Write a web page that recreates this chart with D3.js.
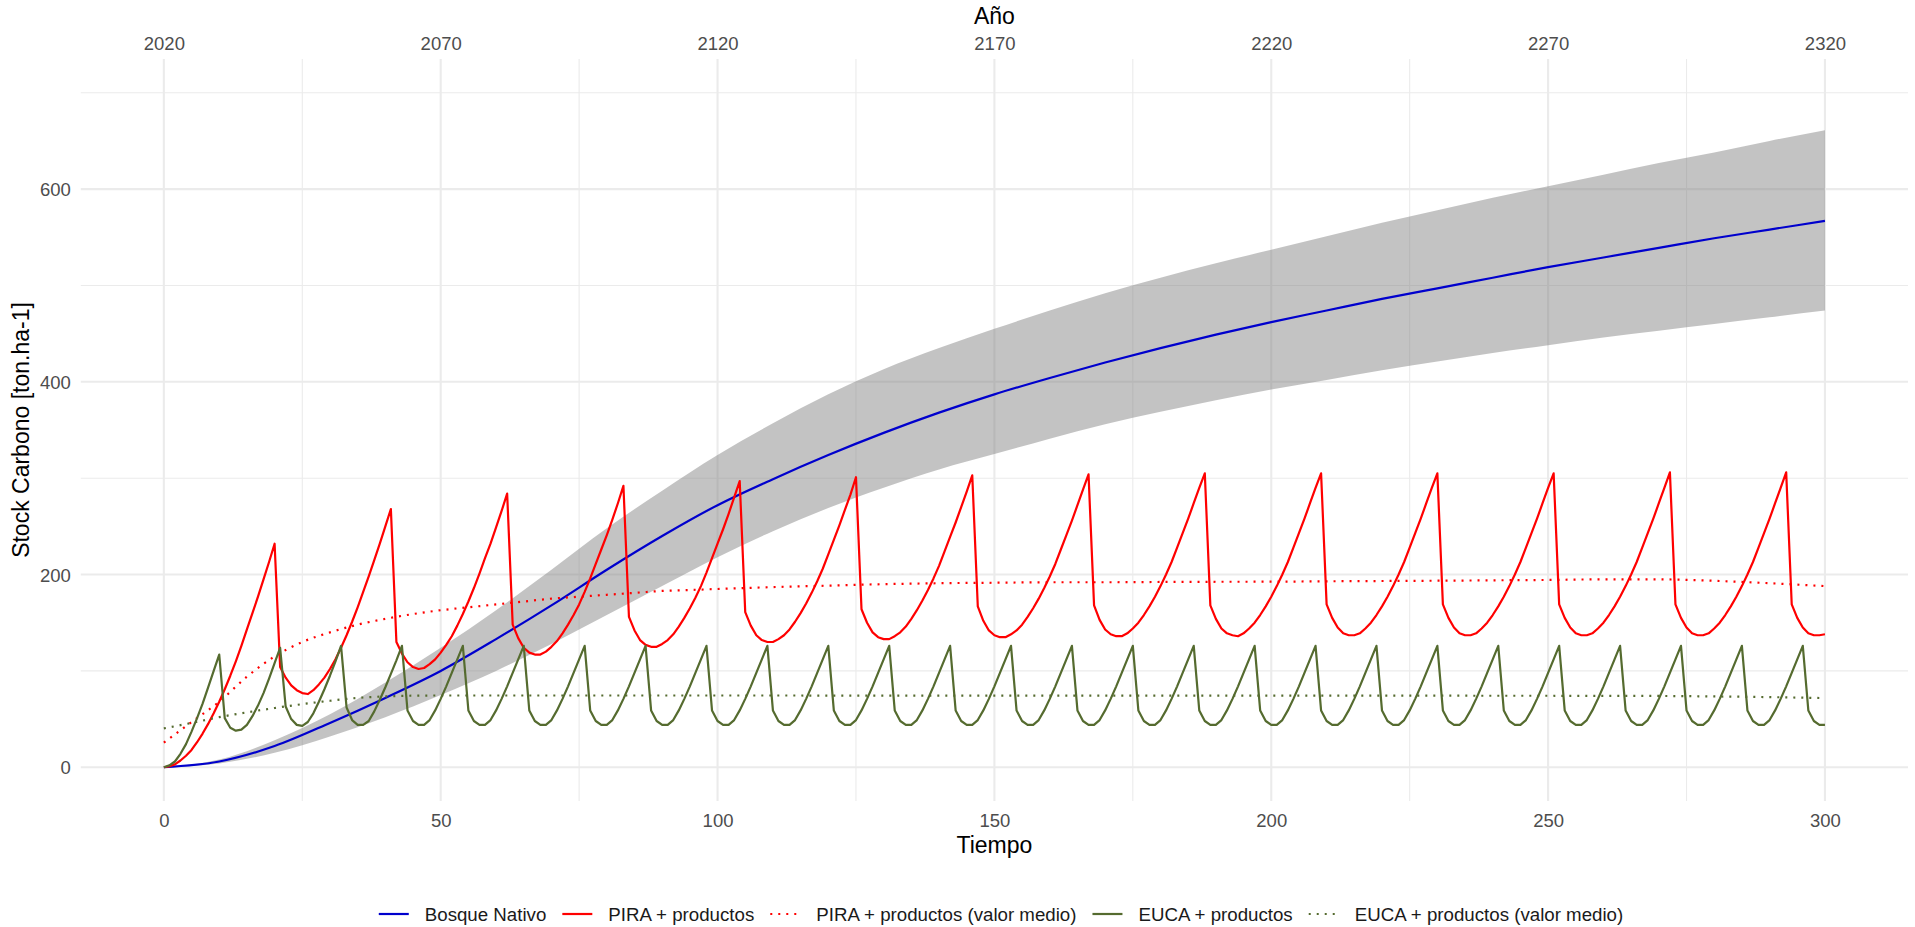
<!DOCTYPE html>
<html><head><meta charset="utf-8">
<script src="https://cdn.jsdelivr.net/npm/d3@7"></script>
<style>
body{margin:0;background:#fff}
svg{display:block}
text{font-family:"Liberation Sans",Arial,Helvetica,sans-serif}
</style>
</head><body>
<svg id="chart" width="1915" height="927"></svg>
<script>
// ---------------- DATA ----------------
const xTicks = [0, 50, 100, 150, 200, 250, 300];
const xMinor = [25, 75, 125, 175, 225, 275];
const yTicks = [0, 200, 400, 600];
const yMinor = [100, 300, 500, 700];
const yearLabels = [2020, 2070, 2120, 2170, 2220, 2270, 2320];
const startYear = 2020;

// Bosque Nativo (every 10 years) with band
const nativeT    = [0,10,20,30,40,50,60,70,80,90,100,110,120,130,140,150,160,170,180,190,200,210,220,230,240,250,260,270,280,290,300];
const nativeMean = [0,6,22,46,72,100,133,168,205,240,272,299,324,347,368,387,404,420,435,449,462,474,486,497,508,519,529,539,549,558,567];
const nativeLow  = [0,4,15,32,52,75,100,128,158,188,218,245,269,290,309,325,341,356,369,381,392,402,412,421,430,438,446,453,460,467,474];
const nativeHigh = [0,8,28,55,88,124,163,205,248,287,324,357,387,413,435,455,474,492,508,523,537,551,565,578,591,603,615,627,638,650,661];

// PIRA + productos (annual, t = 0..300)
const pira = [
0,1,3,7,12,18,26,35,45,56,68,81,95,110,126,143,160,177,195,213,232,
104,93,85,80,77,76,80,86,93,102,112,124,137,151,166,182,198,215,232,250,268,
130,118,109,104,102,103,107,112,119,127,136,147,159,172,186,201,217,232,249,266,284,
148,134,124,119,117,117,120,125,131,139,148,158,169,182,196,211,226,241,257,274,292,
156,142,132,127,125,125,128,132,138,146,155,165,176,188,202,217,232,247,263,280,297,
161,147,137,132,130,130,133,137,143,151,160,170,181,193,206,221,236,251,267,283,301,
164,150,140,135,133,133,136,140,146,154,163,173,184,196,209,224,239,254,270,286,303,
167,152,142,137,135,135,138,142,148,156,165,175,186,198,211,226,241,256,272,288,304,
168,153,143,138,136,136,139,144,150,158,167,177,188,200,213,228,243,258,274,290,305,
168,154,144,139,137,136,139,144,150,158,167,177,188,200,213,228,243,258,274,290,305,
169,155,145,139,137,137,139,144,150,158,167,177,188,200,213,228,243,258,274,290,305,
169,155,145,139,137,137,139,144,150,158,167,177,188,200,213,228,243,258,274,290,305,
169,155,145,139,137,137,139,144,150,158,167,177,188,200,213,228,243,258,274,290,306,
169,155,145,139,137,137,139,144,150,158,167,177,188,200,213,228,243,258,274,290,306,
169,155,145,139,137,137,138
];

// EUCA + productos (annual, t = 0..300)
const euca = [
0,2,6,14,24,37,51,66,83,100,117,
51,41,38,39,44,53,64,77,92,108,124,
63,50,44,43,47,56,68,81,95,110,126,
62,49,44,44,48,58,70,83,97,111,126,
59,48,44,44,49,59,71,84,98,112,126,
59,48,44,44,49,59,71,84,98,112,126,
59,48,44,44,49,59,71,84,98,112,126,
59,48,44,44,49,59,71,84,98,112,126,
59,48,44,44,49,59,71,84,98,112,126,
59,48,44,44,49,59,71,84,98,112,126,
59,48,44,44,49,59,71,84,98,112,126,
59,48,44,44,49,59,71,84,98,112,126,
59,48,44,44,49,59,71,84,98,112,126,
59,48,44,44,49,59,71,84,98,112,126,
59,48,44,44,49,59,71,84,98,112,126,
59,48,44,44,49,59,71,84,98,112,126,
59,48,44,44,49,59,71,84,98,112,126,
59,48,44,44,49,59,71,84,98,112,126,
59,48,44,44,49,59,71,84,98,112,126,
59,48,44,44,49,59,71,84,98,112,126,
59,48,44,44,49,59,71,84,98,112,126,
59,48,44,44,49,59,71,84,98,112,126,
59,48,44,44,49,59,71,84,98,112,126,
59,48,44,44,49,59,71,84,98,112,126,
59,48,44,44,49,59,71,84,98,112,126,
59,48,44,44,49,59,71,84,98,112,126,
59,48,44,44,49,59,71,84,98,112,126,
59,48,44,44
];

// Mean values (valor medio)
const piraMeanT = [0,5,10,15,20,25,30,35,40,45,50,55,60,65,70,75,80,85,90,95,100,110,120,130,140,150,160,170,180,190,200,210,220,230,240,250,260,270,280,290,300];
const piraMean  = [25.5,47,68,94,115,130,140,148,154,159,163,166,169,172,175,177,179,181,183,184,185,187,188.5,190,191,191.5,192,192,192.3,192.5,192.6,193,193.3,193.6,194,194.4,195,195,193.5,191,188];
const eucaMeanT = [0,5,10,15,20,25,30,35,40,45,50,60,80,100,150,200,250,270,280,290,300];
const eucaMean  = [40.4,46,52,57,61.5,65.5,69,72,73.5,74.3,74.5,74.5,74.5,74.5,74.3,74.3,74.2,74,73.5,72.8,71.8];

const legendLabels = ["Bosque Nativo","PIRA + productos","PIRA + productos (valor medio)","EUCA + productos","EUCA + productos (valor medio)"];
const legendColors = ["#0000CD","#FF0000","#FF0000","#556B2F","#556B2F"];
const legendDash   = [null,null,"2,6",null,"2,6"];

// ---------------- CHART ----------------
const svg = d3.select("#chart");
const P = {left: 80.8, right: 1908, top: 59, bottom: 801};
const x = d3.scaleLinear().domain([-15, 315]).range([P.left, P.right]);
const y = d3.scaleLinear().domain([-35, 735]).range([P.bottom, P.top]);
const xYear = d3.scaleLinear().domain([startYear - 15, startYear + 315]).range([P.left, P.right]);

const grid = svg.append("g");
grid.selectAll(".ymin").data(yMinor).join("line")
  .attr("x1", P.left).attr("x2", P.right).attr("y1", d => y(d)).attr("y2", d => y(d))
  .attr("stroke", "#EBEBEB").attr("stroke-width", 1.1);
grid.selectAll(".xmin").data(xMinor).join("line")
  .attr("y1", P.top).attr("y2", P.bottom).attr("x1", d => x(d)).attr("x2", d => x(d))
  .attr("stroke", "#EBEBEB").attr("stroke-width", 1.1);
grid.selectAll(".ymaj").data(yTicks).join("line")
  .attr("x1", P.left).attr("x2", P.right).attr("y1", d => y(d)).attr("y2", d => y(d))
  .attr("stroke", "#EBEBEB").attr("stroke-width", 2.1);
grid.selectAll(".xmaj").data(xTicks).join("line")
  .attr("y1", P.top).attr("y2", P.bottom).attr("x1", d => x(d)).attr("x2", d => x(d))
  .attr("stroke", "#EBEBEB").attr("stroke-width", 2.1);

// Ribbon
const band = nativeT.map((t, i) => [t, nativeLow[i], nativeHigh[i]]);
svg.append("path").datum(band)
  .attr("d", d3.area().x(d => x(d[0])).y0(d => y(d[1])).y1(d => y(d[2])).curve(d3.curveMonotoneX))
  .attr("fill", "#7F7F7F").attr("fill-opacity", 0.47);

function drawLine(pts, color, dash, curve) {
  const ln = d3.line().x(d => x(d[0])).y(d => y(d[1]));
  if (curve) ln.curve(curve);
  const p = svg.append("path").datum(pts).attr("d", ln)
    .attr("fill", "none").attr("stroke", color).attr("stroke-width", 2.2)
    .attr("stroke-linejoin", "round");
  if (dash) p.attr("stroke-dasharray", dash);
  return p;
}
drawLine(nativeT.map((t, i) => [t, nativeMean[i]]), legendColors[0], null, d3.curveMonotoneX);
drawLine(pira.map((v, i) => [i, v]), legendColors[1], null);
drawLine(piraMeanT.map((t, i) => [t, piraMean[i]]), legendColors[2], legendDash[2], d3.curveMonotoneX);
drawLine(euca.map((v, i) => [i, v]), legendColors[3], null);
drawLine(eucaMeanT.map((t, i) => [t, eucaMean[i]]), legendColors[4], legendDash[4], d3.curveMonotoneX);

// Axes
const tickFont = "18.5px";
const gB = svg.append("g").attr("transform", `translate(0,${P.bottom})`)
  .call(d3.axisBottom(x).tickValues(xTicks).tickSize(0).tickPadding(0).tickFormat(d3.format("d")));
gB.select(".domain").remove();
gB.selectAll("text").attr("y", 26).attr("dy", 0).attr("fill", "#4D4D4D")
  .style("font-size", tickFont).style("font-family", '"Liberation Sans",Arial,sans-serif');

const gT = svg.append("g").attr("transform", `translate(0,${P.top})`)
  .call(d3.axisTop(xYear).tickValues(yearLabels).tickSize(0).tickPadding(0).tickFormat(d3.format("d")));
gT.select(".domain").remove();
gT.selectAll("text").attr("y", -9).attr("dy", 0).attr("fill", "#4D4D4D")
  .style("font-size", tickFont).style("font-family", '"Liberation Sans",Arial,sans-serif');

const gL = svg.append("g").attr("transform", `translate(${P.left},0)`)
  .call(d3.axisLeft(y).tickValues(yTicks).tickSize(0).tickPadding(10).tickFormat(d3.format("d")));
gL.select(".domain").remove();
gL.selectAll("text").attr("fill", "#4D4D4D").attr("dy", "0.35em")
  .style("font-size", tickFont).style("font-family", '"Liberation Sans",Arial,sans-serif');

// Titles
const cx = (P.left + P.right) / 2;
svg.append("text").attr("x", cx).attr("y", 853).attr("text-anchor", "middle")
  .style("font-size", "23px").attr("fill", "#000").text("Tiempo");
svg.append("text").attr("x", cx).attr("y", 24).attr("text-anchor", "middle")
  .style("font-size", "23px").attr("fill", "#000").text("Año");
svg.append("text").attr("transform", `translate(28.5,${(P.top + P.bottom) / 2}) rotate(-90)`)
  .attr("text-anchor", "middle").style("font-size", "23px").attr("fill", "#000")
  .text("Stock Carbono [ton.ha-1]");

// Legend
const leg = svg.append("g");
const keyW = 30, gapKT = 16, gapItem = 16, legY = 914;
let cur = 0;
legendLabels.forEach((lab, i) => {
  const g = leg.append("g");
  g.append("line").attr("x1", 0).attr("x2", keyW).attr("y1", legY).attr("y2", legY)
    .attr("stroke", legendColors[i]).attr("stroke-width", 2.2)
    .attr("stroke-dasharray", legendDash[i]);
  const t = g.append("text").attr("x", keyW + gapKT).attr("y", legY).attr("dy", "0.35em")
    .style("font-size", "18.7px").attr("fill", "#1A1A1A").text(lab);
  const w = keyW + gapKT + t.node().getComputedTextLength();
  g.attr("transform", `translate(${cur},0)`);
  cur += w + gapItem;
});
const total = cur - gapItem;
leg.attr("transform", `translate(${1001 - total / 2},0)`);
</script>
</body></html>
